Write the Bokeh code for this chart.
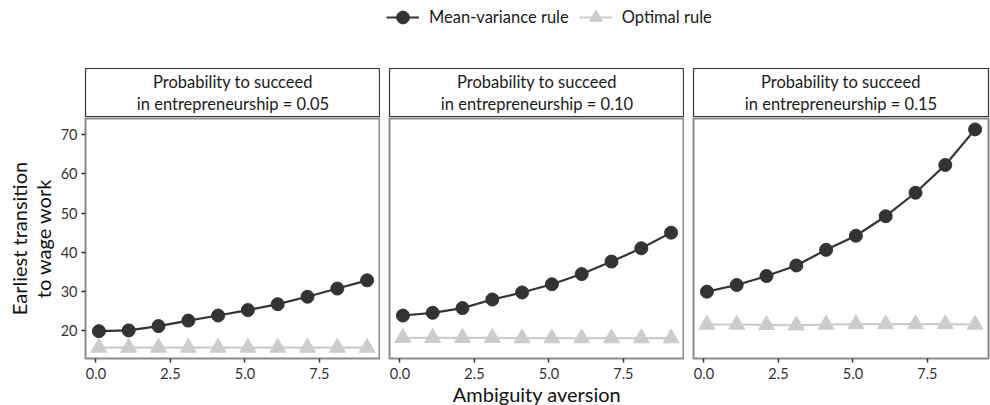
from bokeh.plotting import figure
from bokeh.models import (Range1d, Label, Legend, LegendItem,
                          FixedTicker, NumeralTickFormatter)
from bokeh.layouts import column, row
from bokeh.embed import file_html
from bokeh.resources import INLINE

# ---- data -------------------------------------------------------------
aversion = [0.1, 1.1, 2.1, 3.1, 4.1, 5.1, 6.1, 7.1, 8.1, 9.1]
probabilities = ["0.05", "0.10", "0.15"]

mean_variance_005 = [19.8, 20.0, 21.1, 22.5, 23.8, 25.2, 26.7, 28.6, 30.7, 32.8]
mean_variance_010 = [23.8, 24.5, 25.7, 27.9, 29.7, 31.8, 34.4, 37.6, 41.0, 45.0]
mean_variance_015 = [29.9, 31.6, 33.9, 36.6, 40.6, 44.2, 49.2, 55.2, 62.3, 71.4]

optimal_005 = [15.6, 15.6, 15.6, 15.6, 15.6, 15.6, 15.6, 15.6, 15.6, 15.6]
optimal_010 = [18.1, 18.1, 18.1, 18.1, 18.0, 18.0, 18.0, 18.0, 18.0, 18.0]
optimal_015 = [21.5, 21.5, 21.4, 21.3, 21.5, 21.6, 21.6, 21.6, 21.6, 21.5]

mean_variance = [mean_variance_005, mean_variance_010, mean_variance_015]
optimal = [optimal_005, optimal_010, optimal_015]

series_names = ["Mean-variance rule", "Optimal rule"]
x_ticks = [0, 2.5, 5, 7.5]
y_ticks = [20, 30, 40, 50, 60, 70]

# ---- styling ----------------------------------------------------------
FONT = "Lato"
DARK = "#333333"
LIGHT = "#cccccc"
PANEL_BORDER = "#8a8a8a"
PANEL_W, PANEL_H, STRIP_H = 295, 240, 49
LEFT_MARGIN, GAP = 85, 9

# shared scales with 5% padding on both ends
x_lo = min(aversion) - 0.05 * (max(aversion) - min(aversion))
x_hi = max(aversion) + 0.05 * (max(aversion) - min(aversion))
all_y = [v for s in mean_variance + optimal for v in s]
span = max(all_y) - min(all_y)
y_lo = min(all_y) - 0.05 * span
y_hi = max(all_y) + 0.05 * span


def draw_series(p, i):
    mv_line = p.line(aversion, mean_variance[i], line_color=DARK, line_width=2.2)
    mv_dot = p.scatter(aversion, mean_variance[i], marker="circle", size=13,
                       fill_color=DARK, line_color=DARK)
    op_line = p.line(aversion, optimal[i], line_color=LIGHT, line_width=2.2)
    op_dot = p.scatter(aversion, optimal[i], marker="triangle", size=16,
                       fill_color=LIGHT, line_color=LIGHT)
    return mv_line, mv_dot, op_line, op_dot


def make_strip(i):
    s = figure(frame_width=PANEL_W, frame_height=STRIP_H,
               x_range=Range1d(0, 1), y_range=Range1d(0, 1),
               output_backend="svg", toolbar_location=None,
               x_axis_location=None, y_axis_location=None,
               min_border_left=LEFT_MARGIN if i == 0 else GAP,
               min_border_right=2 if i == 2 else 0,
               min_border_top=28, min_border_bottom=0,
               background_fill_color="white", border_fill_color="white",
               outline_line_color=DARK, outline_line_width=1.2)
    s.grid.visible = False
    s.add_layout(Label(x=0.5, y=0.5,
                       text="Probability to succeed\nin entrepreneurship = "
                            + probabilities[i],
                       text_align="center", text_baseline="middle",
                       text_font=FONT, text_font_size="16.5px",
                       text_line_height=1.1, text_color="#1a1a1a"))
    return s


def make_panel(i):
    first = i == 0
    p = figure(frame_width=PANEL_W, frame_height=PANEL_H,
               x_range=Range1d(x_lo, x_hi), y_range=Range1d(y_lo, y_hi),
               output_backend="svg", toolbar_location=None,
               y_axis_location="left" if first else None,
               min_border_left=LEFT_MARGIN if first else GAP,
               min_border_right=2 if i == 2 else 0,
               min_border_top=1, min_border_bottom=47,
               background_fill_color="white", border_fill_color="white",
               outline_line_color=PANEL_BORDER, outline_line_width=2)
    p.grid.visible = False
    draw_series(p, i)

    for ax in p.axis:
        ax.axis_line_color = None
        ax.major_tick_out = 4
        ax.major_tick_in = 0
        ax.major_tick_line_color = DARK
        ax.major_tick_line_width = 1.5
        ax.minor_tick_line_color = None
        ax.major_label_text_font = FONT
        ax.major_label_text_font_size = "14.5px"
        ax.major_label_text_color = "#333333"
        ax.axis_label_text_font = FONT
        ax.axis_label_text_font_size = "20px"
        ax.axis_label_text_font_style = "normal"
        ax.axis_label_text_line_height = 1.0
        ax.axis_label_text_color = "#111111"

    p.xaxis.ticker = FixedTicker(ticks=x_ticks)
    p.xaxis.formatter = NumeralTickFormatter(format="0.0")
    p.xaxis.major_label_standoff = 5
    p.xaxis.axis_label_standoff = 0
    if i == 1:
        p.xaxis.axis_label = "Ambiguity aversion"
    if first:
        p.yaxis.ticker = FixedTicker(ticks=y_ticks)
        p.yaxis.major_label_standoff = 4
        p.yaxis.axis_label = "Earliest transition\nto wage work"
        p.yaxis.axis_label_standoff = 3
    return p


columns = [column(make_strip(i), make_panel(i), spacing=0) for i in range(3)]

# legend row across the top; its renderers are hidden and only feed the key
top = figure(width=990, height=40, x_range=Range1d(0, 1), y_range=Range1d(0, 1),
             output_backend="svg", toolbar_location=None,
             x_axis_location=None, y_axis_location=None,
             min_border=0, outline_line_color=None,
             background_fill_color="white", border_fill_color="white")
top.grid.visible = False
keys = draw_series(top, 0)
for r in keys:
    r.visible = False
legend = Legend(items=[LegendItem(label=series_names[0], renderers=[keys[0], keys[1]]),
                       LegendItem(label=series_names[1], renderers=[keys[2], keys[3]])],
                orientation="horizontal", location=(386, 7),
                glyph_width=33, glyph_height=32, label_standoff=10, spacing=10,
                padding=0, margin=0, border_line_color=None,
                background_fill_alpha=0, inactive_fill_alpha=0,
                label_text_font=FONT, label_text_font_size="16.5px",
                label_text_color="#1a1a1a")
top.add_layout(legend)

layout = column(top, row(*columns, spacing=0), spacing=0)

open("out.html", "w").write(file_html(layout, INLINE))
